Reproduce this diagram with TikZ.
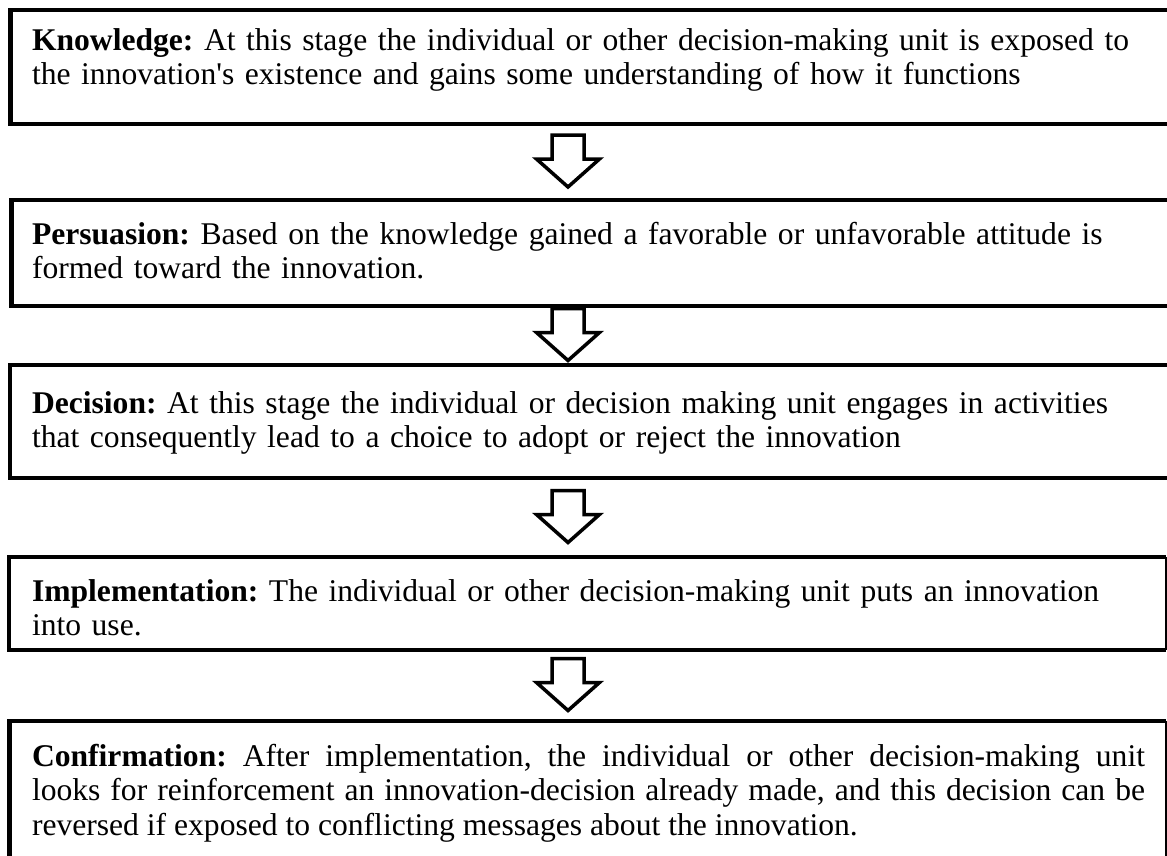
\documentclass[tikz,border=0pt]{standalone}
\usepackage{fontspec}
\setmainfont{Liberation Serif}[Ligatures=TeXOff]
\usetikzlibrary{calc}
\frenchspacing
\begin{document}
\begin{tikzpicture}[x=1pt,y=-1pt,
  stagebox/.style={inner sep=0pt, outer sep=0pt, anchor=north west, draw=none},
  boxline/.style={line width=4.5pt, line join=miter},
  thinline/.style={line width=2pt},
  stagetext/.style={inner sep=0pt, outer sep=0pt, anchor=base west, align=left,
    text width=1113pt, font=\fontsize{31.6}{34.5}\selectfont\frenchspacing},
  barrow/.style={draw=black, fill=white, line width=3.5pt, line join=miter}]
\useasboundingbox (0,0) rectangle (1167,855);
\clip (0,0) rectangle (1167,855);
% boxes
\node[stagebox, minimum width=1190pt, minimum height=114pt] (b1) at (10.5,10) {};
\node[stagebox, minimum width=1190pt, minimum height=106pt] (b2) at (11.5,200) {};
\node[stagebox, minimum width=1190pt, minimum height=113pt] (b3) at (10,365) {};
\node[stagebox, minimum width=1156.5pt, minimum height=93pt] (b4) at (9,557) {};
\node[stagebox, minimum width=1156pt, minimum height=160pt] (b5) at (9.5,721) {};
\foreach \b in {b1,b2,b3,b4,b5}{
  \draw[boxline] (\b.north east) -- (\b.north west) -- (\b.south west) -- (\b.south east);
  \draw[thinline] (\b.north east) -- (\b.south east);
}
% texts
\node[stagetext] (t1) at (32,50) {\textbf{Knowledge:} At this stage the individual or other decision-making unit is exposed to\\the innovation's existence and gains some understanding of how it functions};
\node[stagetext] (t2) at (32,244) {\textbf{Persuasion:} Based on the knowledge gained a favorable or unfavorable attitude is\\formed toward the innovation.};
\node[stagetext] (t3) at (32,413) {\textbf{Decision:} At this stage the individual or decision making unit engages in activities\\that consequently lead to a choice to adopt or reject the innovation};
\node[stagetext] (t4) at (32,601) {\textbf{Implementation:} The individual or other decision-making unit puts an innovation\\into use.};
\node[stagetext, align=justify] (t5) at (32,766) {\textbf{Confirmation:} After implementation, the individual or other decision-making unit \linebreak looks for reinforcement an innovation-decision already made, and this decision can be \linebreak reversed if exposed to conflicting messages about the innovation.};
% block arrows between boxes
\coordinate (xc) at (568,0);
\foreach \u/\l [count=\i] in {b1/b2,b2/b3,b3/b4,b4/b5}{
  \coordinate (m\i) at ($(\u.south west)!0.5!(\l.north west)$);
  \coordinate (a\i) at (m\i -| xc);
  \draw[barrow] (a\i) ++(-16,-27) -- ++(32,0) -- ++(0,24) -- ++(15.5,0)
     -- ++(-31.5,28) -- ++(-31.5,-28) -- ++(15.5,0) -- cycle;
}
\end{tikzpicture}
\end{document}
